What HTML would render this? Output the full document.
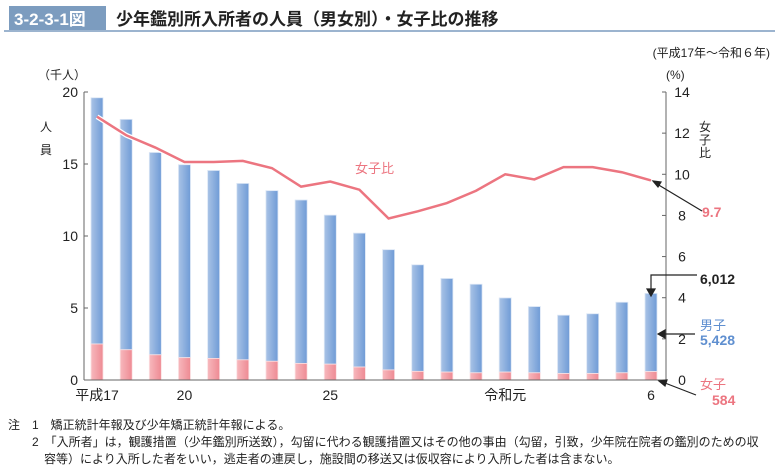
<!DOCTYPE html>
<html><head><meta charset="utf-8"><style>
body{margin:0;width:775px;height:471px;background:#fff;font-family:"Liberation Sans","Noto Sans CJK JP",sans-serif;overflow:hidden}
svg text{font-family:"Liberation Sans","Noto Sans CJK JP",sans-serif}
</style></head><body>
<svg width="775" height="471">
<defs>
<linearGradient id="gb" x1="0" x2="1"><stop offset="0" stop-color="#a9c3e6"/><stop offset="1" stop-color="#6f9bd6"/></linearGradient>
<linearGradient id="gp" x1="0" x2="1"><stop offset="0" stop-color="#f7b8bd"/><stop offset="1" stop-color="#ee8a93"/></linearGradient>
</defs>
<rect x="9" y="6" width="97" height="24" fill="#7c9cbf"/>
<text x="14" y="25" font-size="17" font-weight="bold" fill="#fff">3-2-3-1図</text>
<text x="116" y="25" font-size="17" font-weight="bold" fill="#222">少年鑑別所入所者の人員（男女別）・女子比の推移</text>
<line x1="4" y1="31" x2="775" y2="31" stroke="#7c9cbf" stroke-width="1.5"/>
<text x="770" y="57" font-size="12" fill="#222" text-anchor="end">(平成17年～令和６年)</text>
<text x="38" y="79" font-size="12" fill="#222">（千人）</text>
<text x="40" y="131" font-size="12" fill="#222">人</text>
<text x="40" y="154" font-size="12" fill="#222">員</text>
<text x="666" y="79" font-size="12" fill="#222">(%)</text>
<text x="699" y="131" font-size="12" fill="#222">女</text>
<text x="699" y="144" font-size="12" fill="#222">子</text>
<text x="699" y="157" font-size="12" fill="#222">比</text>
<g id="plot"></g>
<text x="355" y="173" font-size="13" fill="#ec7580">女子比</text>
<text x="702" y="217" font-size="14" font-weight="bold" fill="#ec7580">9.7</text>
<text x="700" y="284" font-size="14" font-weight="bold" fill="#222">6,012</text>
<text x="700" y="330" font-size="13" fill="#5f8fd0">男子</text>
<text x="700" y="345" font-size="14" font-weight="bold" fill="#5f8fd0">5,428</text>
<text x="700" y="389" font-size="13" fill="#ec7580">女子</text>
<text x="712" y="405" font-size="14" font-weight="bold" fill="#ec7580">584</text>
<g stroke="#222" stroke-width="1.2" fill="#222">
<line x1="702" y1="211" x2="657" y2="184"/><path d="M653,181 l8,1 -3,5z"/>
<polyline points="697,275 651,275 651,290" fill="none"/><path d="M647,289 l8,0 -4,7z"/>
<line x1="695" y1="334" x2="664" y2="334"/><path d="M658,334 l7,-4 0,8z"/>
<line x1="696" y1="395" x2="665" y2="383"/><path d="M659,381 l8,-1 -2,6z"/>
</g>
<text x="8" y="429" font-size="12" fill="#222">注　1　矯正統計年報及び少年矯正統計年報による。</text>
<text x="8" y="446" font-size="12" fill="#222">　　2　「入所者」は，観護措置（少年鑑別所送致），勾留に代わる観護措置又はその他の事由（勾留，引致，少年院在院者の鑑別のための収</text>
<text x="8" y="463" font-size="12" fill="#222">　　　容等）により入所した者をいい，逃走者の連戻し，施設間の移送又は仮収容により入所した者は含まない。</text>
</svg>
<script>
const years=["平成17","18","19","20","21","22","23","24","25","26","27","28","29","30","令和元","2","3","4","5","6"];
const totals=[19.6,18.1,15.8,14.95,14.55,13.65,13.15,12.5,11.45,10.2,9.05,8.0,7.05,6.65,5.7,5.1,4.5,4.6,5.4,6.012];
const females=[2.5,2.1,1.75,1.55,1.5,1.4,1.3,1.15,1.1,0.9,0.7,0.6,0.55,0.5,0.55,0.5,0.45,0.45,0.5,0.584];
const ratios=[12.8,11.9,11.3,10.6,10.6,10.65,10.3,9.4,9.65,9.25,7.85,8.2,8.6,9.2,10.0,9.75,10.35,10.35,10.1,9.7];
const leftTicks=[0,5,10,15,20];
const rightTicks=[0,2,4,6,8,10,12,14];
const xLabels={0:"平成17",3:"20",8:"25",14:"令和元",19:"6"};
const NS="http://www.w3.org/2000/svg";
const g=document.getElementById('plot');
const y0=380,yTop=92,xL=84,xR=666;
const yL=v=>y0-(v/20)*(y0-yTop);
const yR=v=>y0-(v/14)*(y0-yTop);
const xC=i=>97+i*(651-97)/(years.length-1);
function mk(t,a){const e=document.createElementNS(NS,t);for(const k in a)e.setAttribute(k,a[k]);g.appendChild(e);return e;}
let e;
e=mk('line',{x1:xL,y1:yTop,x2:xL,y2:y0,stroke:'#666','stroke-width':1});


e=mk('line',{x1:xR,y1:yTop,x2:xR,y2:y0,stroke:'#666','stroke-width':1});


leftTicks.forEach(v=>{
 mk('line',{x1:xL,y1:yL(v),x2:xL+4,y2:yL(v),stroke:'#666'});
 e=mk('text',{x:xL-6,y:yL(v)+5,'font-size':14,'text-anchor':'end',fill:'#222'});e.textContent=v;
 
 
});
rightTicks.forEach(v=>{
 mk('line',{x1:xR-4,y1:yR(v),x2:xR,y2:yR(v),stroke:'#666'});
 e=mk('text',{x:xR+16,y:yR(v)+5,'font-size':14,'text-anchor':'middle',fill:'#222'});e.textContent=v;
 
 
});
years.forEach((yr,i)=>{
 const x=xC(i)-6,w=12;
 e=mk('rect',{x:x,y:yL(totals[i]),width:w,height:yL(females[i])-yL(totals[i]),fill:'url(#gb)',stroke:'#dbe6f5','stroke-width':0.8});
 
 
 e=mk('rect',{x:x,y:yL(females[i]),width:w,height:y0-yL(females[i]),fill:'url(#gp)',stroke:'#fbe0e2','stroke-width':0.8});
 
 
 if(xLabels[i]!==undefined){e=mk('text',{x:xC(i),y:400,'font-size':14,'text-anchor':'middle',fill:'#222'});e.textContent=xLabels[i];
 
 }
});
e=mk('line',{x1:xL,y1:y0,x2:xR,y2:y0,stroke:'#666','stroke-width':1});


e=mk('polyline',{points:ratios.map((r,i)=>xC(i)+','+yR(r)).join(' '),fill:'none',stroke:'#fff','stroke-width':5});


e=mk('polyline',{points:ratios.map((r,i)=>xC(i)+','+yR(r)).join(' '),fill:'none',stroke:'#ec7580','stroke-width':2.5});


</script>
</body></html>
